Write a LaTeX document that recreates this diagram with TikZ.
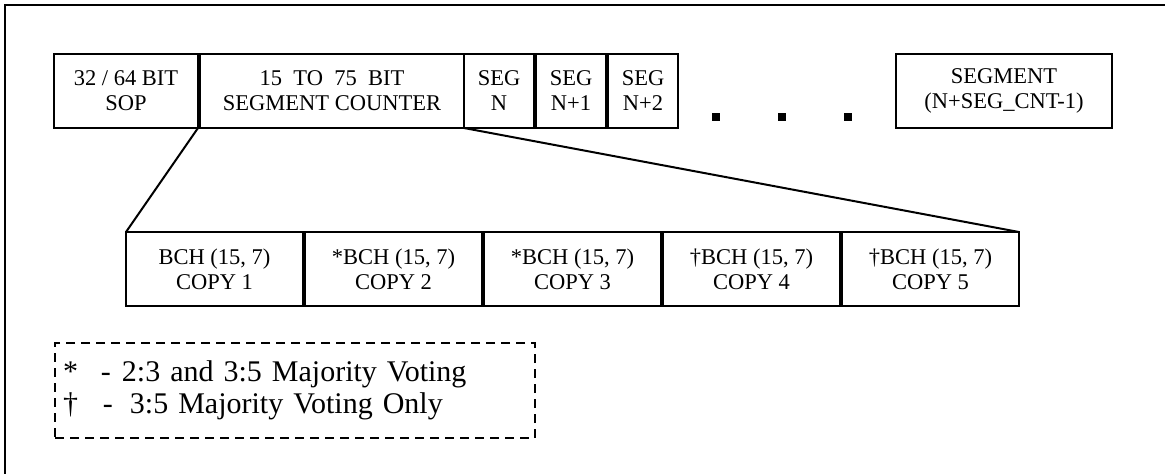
\documentclass[tikz,border=0pt]{standalone}
\usepackage{fontspec}
\setmainfont{Liberation Serif}
\usepackage{tikz}
\tikzset{
  feld/.style={draw,line width=1pt,inner sep=0pt,outer sep=0pt,align=center,
    minimum height=37pt,font=\fontsize{11.25}{12.5}\selectfont},
  verbinder/.style={line width=1pt},
  rahmen/.style={line width=1.1pt},
  legende/.style={draw,dash pattern=on 4.5pt off 3pt,line width=1pt,align=left,
    inner xsep=4pt,inner ysep=0pt,outer sep=0pt,text width=232pt,
    minimum height=47.5pt,font=\fontsize{15}{16}\selectfont},
}

\begin{document}
\begin{tikzpicture}[x=0.5pt,y=-0.5pt]
  \fill[white] (0,0) rectangle (1165,473);
  \useasboundingbox (0,0) rectangle (1165,473);
  \clip (0,0) rectangle (1165,473);
  \draw[rahmen] (5,5) rectangle (1180,490);
  % ===== oben: Paketformat =====
  \node[feld,minimum width=72pt] (sop) at (126,91) {32 / 64 BIT\\SOP};
  \node[feld,minimum width=132pt] (zaehler) at (332,91) {15\ \ TO\ \ 75\ \ BIT\\SEGMENT COUNTER};
  \node[feld,minimum width=35pt] (segn) at (499,91) {SEG\\N};
  \node[feld,minimum width=35pt] (segna) at (571,91) {SEG\\N+1};
  \node[feld,minimum width=35pt] (segnb) at (643,91) {SEG\\N+2};
  \foreach \x in {716,782,848}
    \fill (\x-4,113) rectangle (\x+4,121);
  \node[feld,minimum width=108pt] (segment) at (1004,91) {SEGMENT\\(N+SEG\_CNT-1)};
  % ===== unten: Kopien des Zaehlers =====
  \node[feld,minimum width=88.5pt] (kopie1) at (214.5,269) {BCH (15, 7)\\COPY 1};
  \node[feld,minimum width=88.5pt] (kopie2) at (393.5,269) {*BCH (15, 7)\\COPY 2};
  \node[feld,minimum width=88.5pt] (kopie3) at (572.5,269) {*BCH (15, 7)\\COPY 3};
  \node[feld,minimum width=88.5pt] (kopie4) at (751.5,269) {\textdagger BCH (15, 7)\\COPY 4};
  \node[feld,minimum width=88.5pt] (kopie5) at (930.5,269) {\textdagger BCH (15, 7)\\COPY 5};
  \draw[verbinder] (sop.south east) -- (kopie1.north west);
  \draw[verbinder] (zaehler.south east) -- (kopie5.north east);
  % ===== Legende =====
  \node[legende] (legende) at (295,390.5)
    {\makebox[19pt][l]{*}-\hspace{5.5pt}2:3 and 3:5 Majority Voting\\
     \makebox[20pt][l]{\textdagger}-\hspace{8.5pt}3:5 Majority Voting Only};
\end{tikzpicture}
\end{document}
